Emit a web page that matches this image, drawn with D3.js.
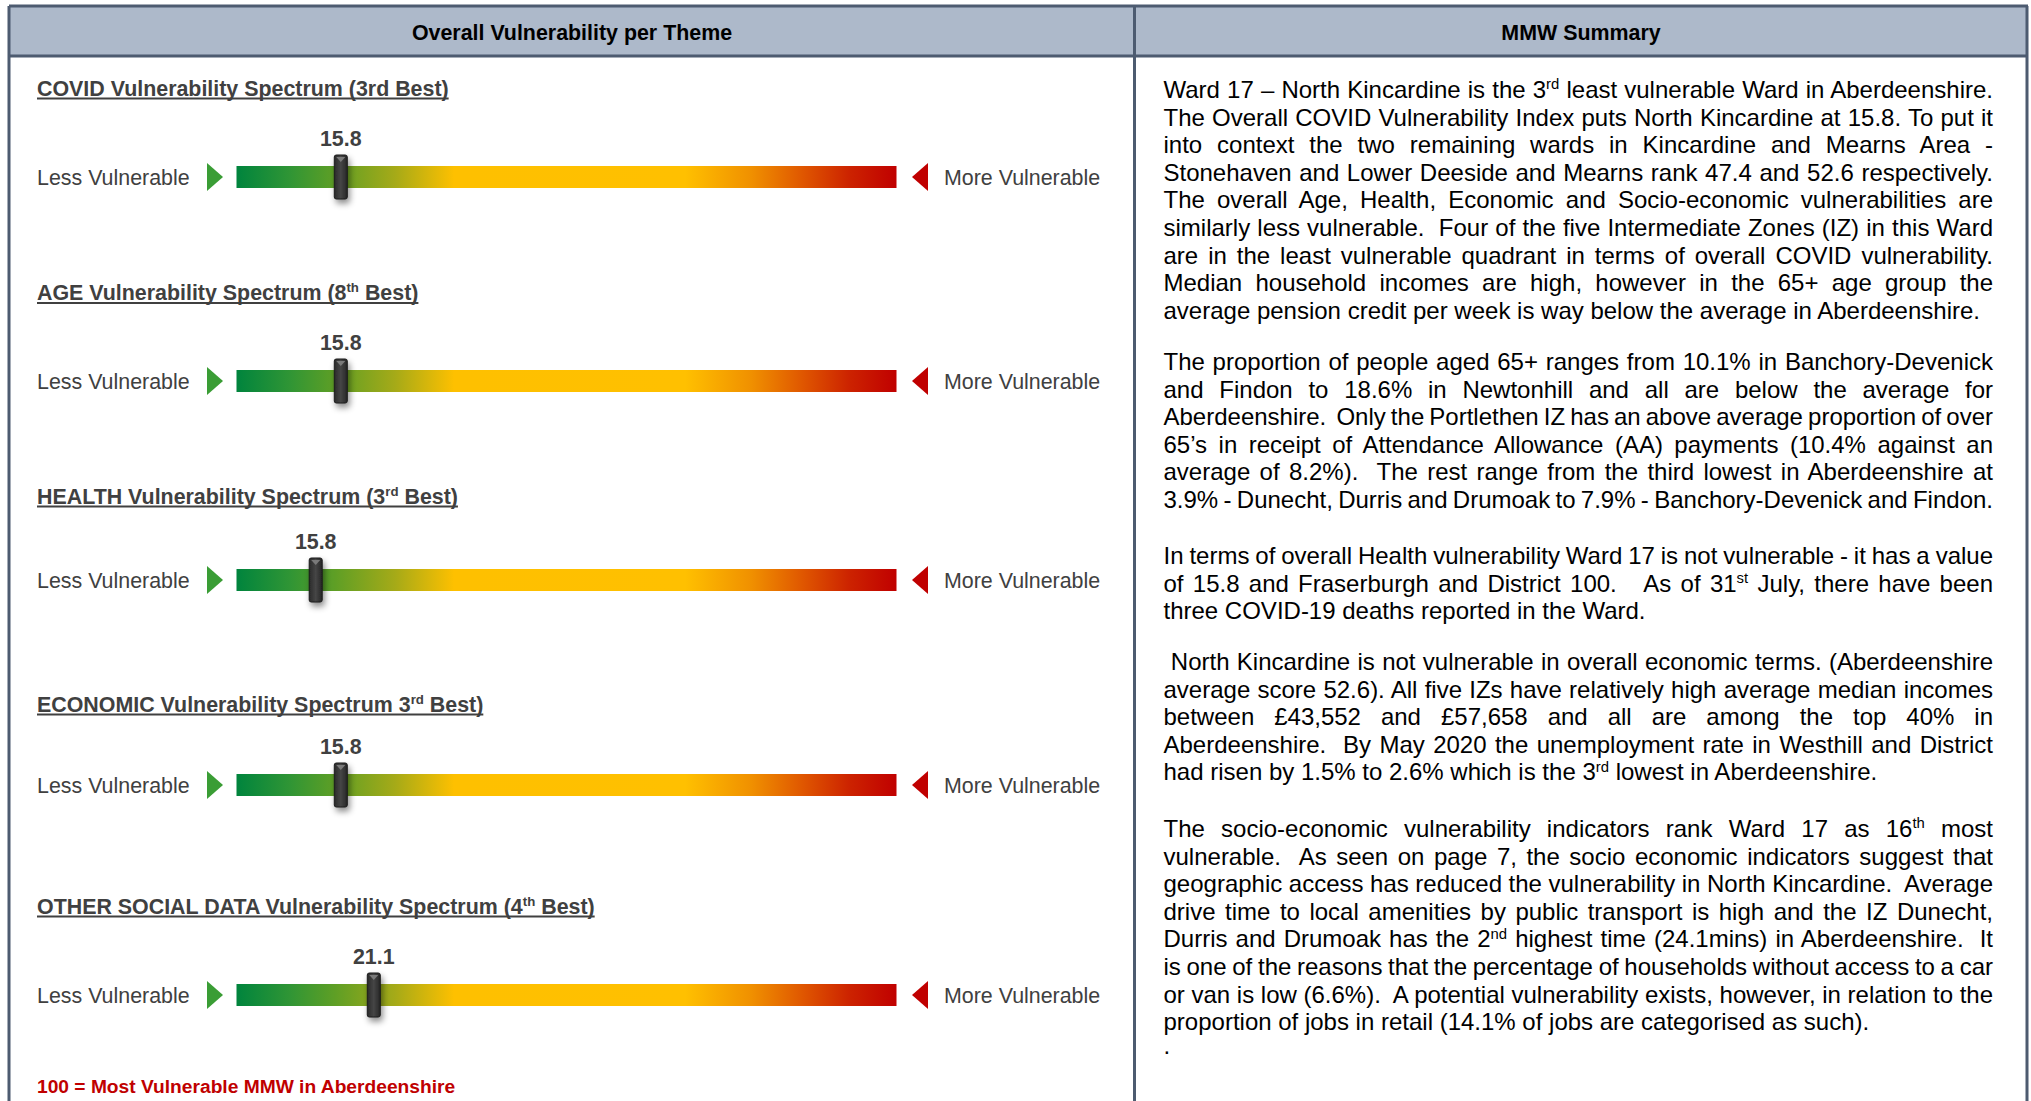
<!DOCTYPE html>
<html>
<head>
<meta charset="utf-8">
<script src="https://cdn.jsdelivr.net/npm/d3@7"></script>
<style>
  html, body { margin: 0; padding: 0; background: #fff; }
  svg { display: block; }
  text { font-family: "Liberation Sans", Arial, sans-serif; }
</style>
</head>
<body>
<div id="chart"></div>
<script>
// theme spectrum rows
const themeTitles = [
  'COVID Vulnerability Spectrum (3rd Best)',
  'AGE Vulnerability Spectrum (8{th} Best)',
  'HEALTH Vulnerability Spectrum (3{rd} Best)',
  'ECONOMIC Vulnerability Spectrum 3{rd} Best)',
  'OTHER SOCIAL DATA Vulnerability Spectrum (4{th} Best)'
];
const themeScores = [15.8, 15.8, 15.8, 15.8, 21.1];
// where the slider sits on the 0-100 spectrum (health slider sits left of its label in the source)
const sliderAt = [15.8, 15.8, 12.0, 15.8, 20.8];
const spectrumDomain = [0, 100];
const spectrumStops = [
  [0, '#00843d'], [0.08, '#2f9535'], [0.15, '#5f9f25'], [0.24, '#a5aa18'],
  [0.33, '#fec000'], [0.68, '#ffc000'], [0.78, '#f09000'], [0.86, '#df5500'],
  [0.93, '#cc2200'], [1, '#c00000']
];
const footNote = '100 = Most Vulnerable MMW in Aberdeenshire';

// MMW summary, one array per paragraph, line breaks as in the report
const summaryParas = [
  [
    'Ward 17 \u2013 North Kincardine is the 3{rd} least vulnerable Ward in Aberdeenshire.',
    'The Overall COVID Vulnerability Index puts North Kincardine at 15.8. To put it',
    'into context the two remaining wards in Kincardine and Mearns Area -',
    'Stonehaven and Lower Deeside and Mearns rank 47.4 and 52.6 respectively.',
    'The overall Age, Health, Economic and Socio-economic vulnerabilities are',
    'similarly less vulnerable.  Four of the five Intermediate Zones (IZ) in this Ward',
    'are in the least vulnerable quadrant in terms of overall COVID vulnerability.',
    'Median household incomes are high, however in the 65+ age group the',
    'average pension credit per week is way below the average in Aberdeenshire.'
  ],
  [
    'The proportion of people aged 65+ ranges from 10.1% in Banchory-Devenick',
    'and Findon to 18.6% in Newtonhill and all are below the average for',
    'Aberdeenshire.  Only the Portlethen IZ has an above average proportion of over',
    '65\u2019s in receipt of Attendance Allowance (AA) payments (10.4% against an',
    'average of 8.2%).  The rest range from the third lowest in Aberdeenshire at',
    '3.9% - Dunecht, Durris and Drumoak to 7.9% - Banchory-Devenick and Findon.'
  ],
  [
    'In terms of overall Health vulnerability Ward 17 is not vulnerable - it has a value',
    'of 15.8 and Fraserburgh and District 100.   As of 31{st} July, there have been',
    'three COVID-19 deaths reported in the Ward.'
  ],
  [
    ' North Kincardine is not vulnerable in overall economic terms. (Aberdeenshire',
    'average score 52.6). All five IZs have relatively high average median incomes',
    'between \u00a343,552 and \u00a357,658 and all are among the top 40% in',
    'Aberdeenshire.  By May 2020 the unemployment rate in Westhill and District',
    'had risen by 1.5% to 2.6% which is the 3{rd} lowest in Aberdeenshire.'
  ],
  [
    'The socio-economic vulnerability indicators rank Ward 17 as 16{th} most',
    'vulnerable.  As seen on page 7, the socio economic indicators suggest that',
    'geographic access has reduced the vulnerability in North Kincardine.  Average',
    'drive time to local amenities by public transport is high and the IZ Dunecht,',
    'Durris and Drumoak has the 2{nd} highest time (24.1mins) in Aberdeenshire.  It',
    'is one of the reasons that the percentage of households without access to a car',
    'or van is low (6.6%).  A potential vulnerability exists, however, in relation to the',
    'proportion of jobs in retail (14.1% of jobs are categorised as such).'
  ],
  ['.']
];

let width = 2031;
let height = 1101;
let border = '#4d5b70';
let grey = '#404040';
let leftFs = 21.4;

let svg = d3.select('#chart').append('svg')
  .attr('width', width)
  .attr('height', height);

let defs = svg.append('defs');
let grad = defs.append('linearGradient').attr('id', 'spectrum');
grad.selectAll('stop')
  .data(spectrumStops)
  .enter()
  .append('stop')
  .attr('offset', d => d[0])
  .attr('stop-color', d => d[1]);

let knob = defs.append('linearGradient').attr('id', 'knob');
knob.append('stop').attr('offset', 0).attr('stop-color', '#2a2a2a');
knob.append('stop').attr('offset', 0.5).attr('stop-color', '#464646');
knob.append('stop').attr('offset', 1).attr('stop-color', '#262626');

let shadow = defs.append('filter').attr('id', 'shadow')
  .attr('x', '-100%').attr('y', '-50%').attr('width', '300%').attr('height', '200%');
shadow.append('feDropShadow')
  .attr('dx', 2).attr('dy', 4).attr('stdDeviation', 3)
  .attr('flood-color', '#000').attr('flood-opacity', 0.45);

// writes a line with {sup} parts as superscript tspans
function richText(sel, str, fs) {
  let parts = str.split(/\{(\w+)\}/);
  let up = fs * 0.36;
  let lifted = false;
  parts.forEach((p, i) => {
    if (i % 2 === 1) {
      sel.append('tspan').attr('font-size', fs * 0.62).attr('dy', -up).text(p);
      lifted = true;
    } else if (p.length) {
      let t = sel.append('tspan').text(p);
      if (lifted) { t.attr('dy', up); lifted = false; }
    }
  });
}

// frame and headers
svg.append('rect')
  .attr('x', 9).attr('y', 6).attr('width', 2019).attr('height', 50)
  .attr('fill', '#adb9ca');
let frame = [
  [9, 6, 2028, 6], [9, 56, 2028, 56],
  [9, 6, 9, height], [1134.5, 6, 1134.5, height], [2027, 6, 2027, height]
];
svg.selectAll('line.frame')
  .data(frame)
  .enter()
  .append('line')
  .attr('class', 'frame')
  .attr('x1', d => d[0]).attr('y1', d => d[1])
  .attr('x2', d => d[2]).attr('y2', d => d[3])
  .attr('stroke', border)
  .attr('stroke-width', 3);

svg.append('text')
  .attr('x', 572).attr('y', 39.5)
  .attr('text-anchor', 'middle')
  .attr('font-size', leftFs).attr('font-weight', 'bold').attr('fill', '#000')
  .text('Overall Vulnerability per Theme');
svg.append('text')
  .attr('x', 1581).attr('y', 39.5)
  .attr('text-anchor', 'middle')
  .attr('font-size', leftFs).attr('font-weight', 'bold').attr('fill', '#000')
  .text('MMW Summary');

// spectrum rows
let rowY = [177, 381, 580, 785, 995];
let titleY = [95.5, 300, 503.5, 711.5, 913.5];
let x = d3.scaleLinear().domain(spectrumDomain).range([236.5, 896.5]);
let barH = 22;

let rows = svg.selectAll('g.row')
  .data(themeTitles.map((t, i) => ({ title: t, score: themeScores[i], at: sliderAt[i], y: rowY[i], ty: titleY[i] - rowY[i] })))
  .enter()
  .append('g')
  .attr('class', 'row')
  .attr('transform', d => `translate(0,${d.y})`);

rows.each(function (d) {
  let g = d3.select(this);
  let t = g.append('text')
    .attr('x', 37).attr('y', d.ty)
    .attr('font-size', leftFs).attr('font-weight', 'bold').attr('fill', grey);
  richText(t, d.title, leftFs);
  let w = t.node().getComputedTextLength();
  g.append('line')
    .attr('x1', 37).attr('x2', 37 + w)
    .attr('y1', d.ty + 3).attr('y2', d.ty + 3)
    .attr('stroke', grey).attr('stroke-width', 2.2);
});

rows.append('text')
  .attr('x', 37).attr('y', 7.5)
  .attr('font-size', leftFs).attr('fill', grey)
  .text('Less Vulnerable');
rows.append('path')
  .attr('d', 'M207,-14 L223,0 L207,14 Z')
  .attr('fill', '#3a9d35');

rows.append('rect')
  .attr('x', x(spectrumDomain[0]))
  .attr('y', -barH / 2)
  .attr('width', x(spectrumDomain[1]) - x(spectrumDomain[0]))
  .attr('height', barH)
  .attr('fill', 'url(#spectrum)');

rows.append('path')
  .attr('d', 'M928,-14 L912,0 L928,14 Z')
  .attr('fill', '#c00000');
rows.append('text')
  .attr('x', 944).attr('y', 7.5)
  .attr('font-size', leftFs).attr('fill', grey)
  .text('More Vulnerable');

let slider = rows.append('g')
  .attr('transform', d => `translate(${x(d.at)},0)`);
slider.append('rect')
  .attr('x', -6.5).attr('y', -22).attr('width', 13).attr('height', 44)
  .attr('rx', 2)
  .attr('fill', 'url(#knob)')
  .attr('stroke', '#1c1c1c').attr('stroke-width', 1)
  .attr('filter', 'url(#shadow)');
slider.append('path')
  .attr('d', 'M-4.5,-20 L4.5,-20 L0,-15 Z')
  .attr('fill', '#7a7a7a');

rows.append('text')
  .attr('x', d => x(d.at)).attr('y', -31.5)
  .attr('text-anchor', 'middle')
  .attr('font-size', leftFs).attr('font-weight', 'bold').attr('fill', grey)
  .text(d => d3.format('.1f')(d.score));

svg.append('text')
  .attr('x', 37).attr('y', 1093)
  .attr('font-family', 'Lato, "Open Sans", sans-serif')
  .attr('font-size', 19.2).attr('font-weight', 'bold').attr('fill', '#c00000')
  .text(footNote);

// summary text, justified line by line
let textX = 1163.5;
let textW = 829.5;
let fs = 24;
let lineH = 27.6;
let paraY = [98, 370, 564, 670, 837, 1054];

summaryParas.forEach((lines, p) => {
  lines.forEach((line, i) => {
    let t = svg.append('text')
      .attr('x', textX)
      .attr('y', paraY[p] + i * lineH)
      .attr('xml:space', 'preserve')
      .style('white-space', 'pre')
      .attr('font-size', fs)
      .attr('fill', '#000');
    richText(t, line, fs);
    let natural = t.node().getComputedTextLength();
    let spaces = (line.match(/ /g) || []).length;
    // justify all but the last line; squeeze any line that runs past the column
    if (spaces && (i < lines.length - 1 || natural > textW)) {
      t.style('word-spacing', ((textW - natural) / spaces) + 'px');
    }
  });
});
</script>
</body>
</html>
